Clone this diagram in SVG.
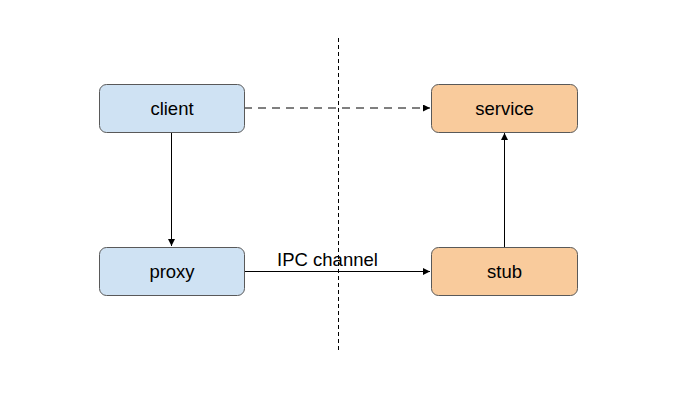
<svg xmlns="http://www.w3.org/2000/svg" width="682" height="416" viewBox="0 0 682 416">
<style>
.box{stroke:#595959;stroke-width:1}
.blue{fill:#cfe2f3}
.orange{fill:#f9cb9c}
.lbl{font-family:"Liberation Sans",Arial,sans-serif;font-size:18.5px;fill:#000;text-anchor:middle;dominant-baseline:central}
.conn{stroke:#000;stroke-width:1;fill:none}
</style>
<defs>
<marker id="ah" viewBox="0 0 10 10" refX="10" refY="5" markerWidth="7" markerHeight="7" markerUnits="userSpaceOnUse" orient="auto">
<path d="M0,0 L10,5 L0,10 z" fill="#000"/>
</marker>
</defs>
<rect width="682" height="416" fill="#fff"/>
<line x1="338.5" y1="38" x2="338.5" y2="353" stroke="#000" stroke-width="1" stroke-dasharray="4,3"/>
<g id="connectors">
<line class="conn" x1="244" y1="108" x2="430" y2="108" stroke-dasharray="8,6" marker-end="url(#ah)"/>
<line class="conn" x1="171.5" y1="132" x2="171.5" y2="246" marker-end="url(#ah)"/>
<line class="conn" x1="244" y1="271.5" x2="430" y2="271.5" marker-end="url(#ah)"/>
<line class="conn" x1="504.5" y1="247" x2="504.5" y2="133" marker-end="url(#ah)"/>
<text class="lbl" x="327.5" y="259">IPC channel</text>
</g>
<g id="client"><rect class="box blue" x="99.5" y="84.5" width="145" height="48" rx="7"/><text class="lbl" x="172" y="108.5">client</text></g>
<g id="service"><rect class="box orange" x="431.5" y="84.5" width="146" height="48" rx="7"/><text class="lbl" x="504.5" y="108.5">service</text></g>
<g id="proxy"><rect class="box blue" x="99.5" y="247.5" width="145" height="48" rx="7"/><text class="lbl" x="172" y="271.5">proxy</text></g>
<g id="stub"><rect class="box orange" x="431.5" y="247.5" width="146" height="48" rx="7"/><text class="lbl" x="504.5" y="271.5">stub</text></g>
</svg>
